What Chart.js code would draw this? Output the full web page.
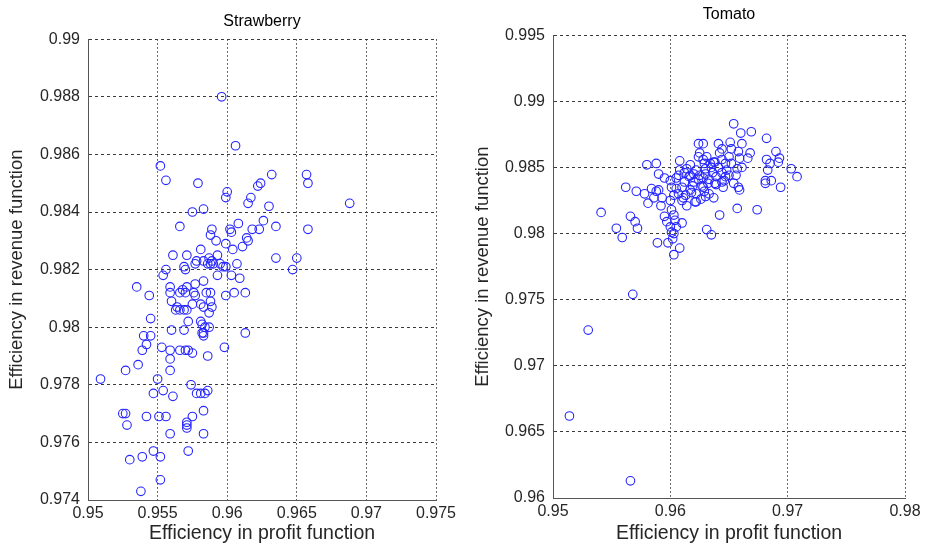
<!DOCTYPE html>
<html>
<head>
<meta charset="utf-8">
<script src="https://cdn.jsdelivr.net/npm/chart.js@4.4.1/dist/chart.umd.min.js"></script>
<style>
  html, body { margin: 0; padding: 0; background: #fff; }
  #strawberry { position: absolute; left: 0; top: 0; }
  #tomato { position: absolute; left: 463px; top: 0; }
</style>
</head>
<body>
<canvas id="strawberry" width="463" height="546"></canvas>
<canvas id="tomato" width="463" height="546"></canvas>
<script>
// Strawberry - efficiency in profit (x) vs revenue (y)
const sbX = [
  0.9596, 0.9606, 0.9552, 0.9556, 0.9579, 0.9600, 0.9599, 0.9622, 0.9617, 0.9615,
  0.9575, 0.9583, 0.9566, 0.9589, 0.9588, 0.9592, 0.9608, 0.9602, 0.9603, 0.9618,
  0.9614, 0.9615, 0.9611, 0.9599, 0.9604, 0.9581, 0.9561, 0.9571, 0.9607,
  0.9632, 0.9624, 0.9657, 0.9658, 0.9630, 0.9688, 0.9626, 0.9635, 0.9623, 0.9658,
  0.9635, 0.9650, 0.9647, 0.9613,
  0.9556, 0.9554, 0.9535, 0.9544, 0.9559, 0.9559, 0.9568, 0.9571, 0.9566, 0.9570,
  0.9577, 0.9576, 0.9583, 0.9585, 0.9588, 0.9599, 0.9605, 0.9593, 0.9603, 0.9609,
  0.9597,
  0.9560, 0.9564, 0.9566, 0.9563, 0.9569, 0.9571, 0.9575, 0.9577, 0.9581, 0.9583,
  0.9588, 0.9589, 0.9587,
  0.9545, 0.9572, 0.9560, 0.9569, 0.9581, 0.9582, 0.9584, 0.9587, 0.9583, 0.9583,
  0.9582, 0.9613, 0.9540, 0.9545, 0.9542, 0.9539, 0.9536, 0.9527,
  0.9553, 0.9559, 0.9566, 0.9570, 0.9572, 0.9575, 0.9559, 0.9598, 0.9586, 0.9559,
  0.9509, 0.9550, 0.9547, 0.9554, 0.9561, 0.9574, 0.9578, 0.9581, 0.9584, 0.9586,
  0.9525, 0.9527, 0.9528, 0.9542, 0.9551, 0.9556, 0.9575, 0.9571, 0.9571, 0.9571,
  0.9583, 0.9559, 0.9583, 0.9572, 0.9547, 0.9552, 0.9539, 0.9530, 0.9552, 0.9538,
  0.9578, 0.9583, 0.9587, 0.9589, 0.9593, 0.9590, 0.9595, 0.9599, 0.9586, 0.9588,
  0.9569, 0.9570, 0.9577
];
const sbY = [
  0.9880, 0.9863, 0.9856, 0.9851, 0.9850, 0.9847, 0.9845, 0.9849, 0.9845, 0.9843,
  0.9840, 0.9841, 0.9835, 0.9834, 0.9832, 0.9830, 0.9836, 0.9834, 0.9833, 0.9834,
  0.9831, 0.9830, 0.9828, 0.9829, 0.9827, 0.9827, 0.9825, 0.9825, 0.9822,
  0.9853, 0.9850, 0.9853, 0.9850, 0.9842, 0.9843, 0.9837, 0.9835, 0.9834, 0.9834,
  0.9824, 0.9824, 0.9820, 0.9812,
  0.9820, 0.9818, 0.9814, 0.9811, 0.9814, 0.9812, 0.9813, 0.9814, 0.9812, 0.9812,
  0.9815, 0.9812, 0.9816, 0.9812, 0.9812, 0.9811, 0.9812, 0.9818, 0.9818, 0.9817,
  0.9821,
  0.9809, 0.9807, 0.9806, 0.9806, 0.9806, 0.9806, 0.9808, 0.9811, 0.9808, 0.9807,
  0.9809, 0.9807, 0.9805,
  0.9803, 0.9802, 0.9799, 0.9799, 0.9802, 0.9801, 0.9800, 0.9800, 0.9798, 0.9797,
  0.9798, 0.9798, 0.9797, 0.9797, 0.9794, 0.9792, 0.9787, 0.9785,
  0.9793, 0.9792, 0.9792, 0.9792, 0.9792, 0.9791, 0.9789, 0.9793, 0.9790, 0.9785,
  0.9782, 0.9782, 0.9777, 0.9778, 0.9776, 0.9780, 0.9777, 0.9777, 0.9777, 0.9778,
  0.9770, 0.9770, 0.9766, 0.9769, 0.9769, 0.9769, 0.9769, 0.9767, 0.9766, 0.9765,
  0.9771, 0.9763, 0.9763, 0.9757, 0.9757, 0.9755, 0.9755, 0.9754, 0.9747, 0.9743,
  0.9823, 0.9823, 0.9824, 0.9823, 0.9825, 0.9822, 0.9822, 0.9821, 0.9822, 0.9822,
  0.9821, 0.9820, 0.9822
];

// Tomato
const tmX = [
  0.9568, 0.9530, 0.9514, 0.9566, 0.9654, 0.9541, 0.9554, 0.9559, 0.9562,
  0.9566, 0.9570, 0.9572, 0.9571, 0.9578, 0.9581, 0.9584, 0.9586, 0.9588, 0.9590, 0.9592,
  0.9580, 0.9588, 0.9590, 0.9595,
  0.9589, 0.9598, 0.9603, 0.9610, 0.9603, 0.9608, 0.9593,
  0.9600, 0.9601, 0.9607, 0.9608, 0.9617, 0.9624, 0.9628, 0.9625, 0.9624,
  0.9600, 0.9601, 0.9595, 0.9597, 0.9603, 0.9604, 0.9600, 0.9601, 0.9605, 0.9602,
  0.9631,
  0.9607, 0.9611, 0.9617, 0.9614, 0.9621, 0.9622, 0.9630, 0.9628, 0.9620, 0.9612,
  0.9617, 0.9625, 0.9605, 0.9610, 0.9622, 0.9630, 0.9628, 0.9608, 0.9614,
  0.9660, 0.9669, 0.9682, 0.9641, 0.9651, 0.9661,
  0.9644, 0.9642, 0.9652, 0.9658, 0.9668, 0.9666, 0.9659, 0.9650,
  0.9690, 0.9693, 0.9682, 0.9692, 0.9685,
  0.9661, 0.9657, 0.9647, 0.9638, 0.9634, 0.9631, 0.9628,
  0.9683, 0.9681, 0.9681, 0.9694, 0.9686, 0.9703, 0.9708,
  0.9656, 0.9654, 0.9659, 0.9658, 0.9647, 0.9644, 0.9645, 0.9639,
  0.9637, 0.9622, 0.9657, 0.9674, 0.9642, 0.9635,
  0.9630, 0.9633, 0.9636, 0.9639, 0.9632, 0.9627, 0.9635, 0.9641, 0.9624, 0.9619,
  0.9616, 0.9644, 0.9648, 0.9650, 0.9638, 0.9629, 0.9613, 0.9620, 0.9612, 0.9605,
  0.9603, 0.9610, 0.9618, 0.9626, 0.9633, 0.9646, 0.9652, 0.9644, 0.9637, 0.9629
];
const tmY = [
  0.9754, 0.9727, 0.9662, 0.9613, 0.9883, 0.9816, 0.9804, 0.9797, 0.9835,
  0.9813, 0.9809, 0.9804, 0.9832, 0.9830, 0.9823, 0.9834, 0.9827, 0.9832, 0.9833, 0.9821,
  0.9852, 0.9853, 0.9845, 0.9842,
  0.9793, 0.9793, 0.9800, 0.9808, 0.9784, 0.9789, 0.9827,
  0.9840, 0.9835, 0.9844, 0.9855, 0.9852, 0.9868, 0.9868, 0.9861, 0.9858,
  0.9825, 0.9818, 0.9813, 0.9809, 0.9814, 0.9810, 0.9805, 0.9801, 0.9805, 0.9796,
  0.9803,
  0.9830, 0.9827, 0.9833, 0.9821, 0.9824, 0.9830, 0.9828, 0.9835, 0.9839, 0.9839,
  0.9844, 0.9844, 0.9834, 0.9835, 0.9848, 0.9849, 0.9842, 0.9848, 0.9849,
  0.9876, 0.9877, 0.9872, 0.9868, 0.9869, 0.9868,
  0.9864, 0.9861, 0.9864, 0.9862, 0.9861, 0.9857, 0.9857, 0.9858,
  0.9862, 0.9857, 0.9856, 0.9854, 0.9853,
  0.9850, 0.9849, 0.9853, 0.9854, 0.9853, 0.9858, 0.9856,
  0.9848, 0.9840, 0.9838, 0.9835, 0.9840, 0.9849, 0.9843,
  0.9844, 0.9838, 0.9833, 0.9835, 0.9843, 0.9839, 0.9835, 0.9837,
  0.9827, 0.9824, 0.9819, 0.9818, 0.9814, 0.9799,
  0.9845, 0.9841, 0.9846, 0.9843, 0.9838, 0.9836, 0.9850, 0.9850, 0.9841, 0.9836,
  0.9843, 0.9846, 0.9848, 0.9844, 0.9838, 0.9832, 0.9829, 0.9845, 0.9846, 0.9842,
  0.9829, 0.9825, 0.9831, 0.9826, 0.9830, 0.9840, 0.9853, 0.9856, 0.9854, 0.9853
];

// Tick values and labels
const sbXTicks = [0.95, 0.955, 0.96, 0.965, 0.97, 0.975];
const sbXLabels = ["0.95", "0.955", "0.96", "0.965", "0.97", "0.975"];
const sbYTicks = [0.974, 0.976, 0.978, 0.98, 0.982, 0.984, 0.986, 0.988, 0.99];
const sbYLabels = ["0.974", "0.976", "0.978", "0.98", "0.982", "0.984", "0.986", "0.988", "0.99"];
const tmXTicks = [0.95, 0.96, 0.97, 0.98];
const tmXLabels = ["0.95", "0.96", "0.97", "0.98"];
const tmYTicks = [0.96, 0.965, 0.97, 0.975, 0.98, 0.985, 0.99, 0.995];
const tmYLabels = ["0.96", "0.965", "0.97", "0.975", "0.98", "0.985", "0.99", "0.995"];

const FONT = "'Liberation Sans', Arial, sans-serif";
const TEXT = "#262626";

function axis(ticks, labels, o) {
  return {
    type: "linear",
    min: ticks[0],
    max: ticks[ticks.length - 1],
    afterBuildTicks: (s) => {
      s.ticks = ticks.map((v) => ({ value: v }));
    },
    afterFit: o.fit,
    ticks: {
      autoSkip: false,
      maxRotation: 0,
      padding: o.tickPad,
      color: TEXT,
      font: { family: FONT, size: 16 },
      callback: (v, i) => labels[i],
    },
    grid: { color: "#3a3a3a", lineWidth: 1, drawTicks: false },
    border: { display: true, color: "#555", width: 1, dash: o.dash },
    title: {
      display: true,
      text: o.title,
      color: TEXT,
      font: { family: FONT, size: o.titleSize },
      padding: o.titlePad,
    },
  };
}

function makeScatter(id, cfg) {
  const points = cfg.xs.map((x, i) => ({ x: x, y: cfg.ys[i] }));
  return new Chart(document.getElementById(id), {
    type: "scatter",
    data: {
      datasets: [
        {
          data: points,
          pointStyle: "circle",
          pointRadius: 4.3,
          pointBorderWidth: 1.1,
          borderColor: "#2525ff",
          backgroundColor: "rgba(0,0,0,0)",
        },
      ],
    },
    options: {
      responsive: false,
      animation: false,
      layout: { padding: cfg.padding },
      plugins: {
        legend: { display: false },
        tooltip: { enabled: false },
        title: {
          display: true,
          text: cfg.title,
          fullSize: false,
          color: "#000",
          font: { family: FONT, size: 16, weight: "normal" },
          padding: cfg.titlePad,
        },
      },
      scales: {
        x: axis(cfg.xTicks, cfg.xLabels, {
          fit: (s) => { s.height = cfg.xHeight; },
          tickPad: 4,
          dash: [1.5, 2.5],
          title: "Efficiency in profit function",
          titleSize: 19.5,
          titlePad: { top: 0, bottom: 1 },
        }),
        y: axis(cfg.yTicks, cfg.yLabels, {
          fit: (s) => { s.width = cfg.yWidth; },
          tickPad: 8,
          dash: [3, 3],
          title: "Efficiency in revenue function",
          titleSize: 18.5,
          titlePad: { top: 0, bottom: 0 },
        }),
      },
    },
  });
}

makeScatter("strawberry", {
  xs: sbX, ys: sbY,
  xTicks: sbXTicks, xLabels: sbXLabels,
  yTicks: sbYTicks, yLabels: sbYLabels,
  title: "Strawberry",
  titlePad: { top: 12, bottom: 8 },
  padding: { left: 6, right: 27, top: 0, bottom: 0 },
  yWidth: 82,
  xHeight: 46,
});

makeScatter("tomato", {
  xs: tmX, ys: tmY,
  xTicks: tmXTicks, xLabels: tmXLabels,
  yTicks: tmYTicks, yLabels: tmYLabels,
  title: "Tomato",
  titlePad: { top: 5, bottom: 11 },
  padding: { left: 9, right: 21, top: 0, bottom: 0 },
  yWidth: 81,
  xHeight: 48,
});
</script>
</body>
</html>
